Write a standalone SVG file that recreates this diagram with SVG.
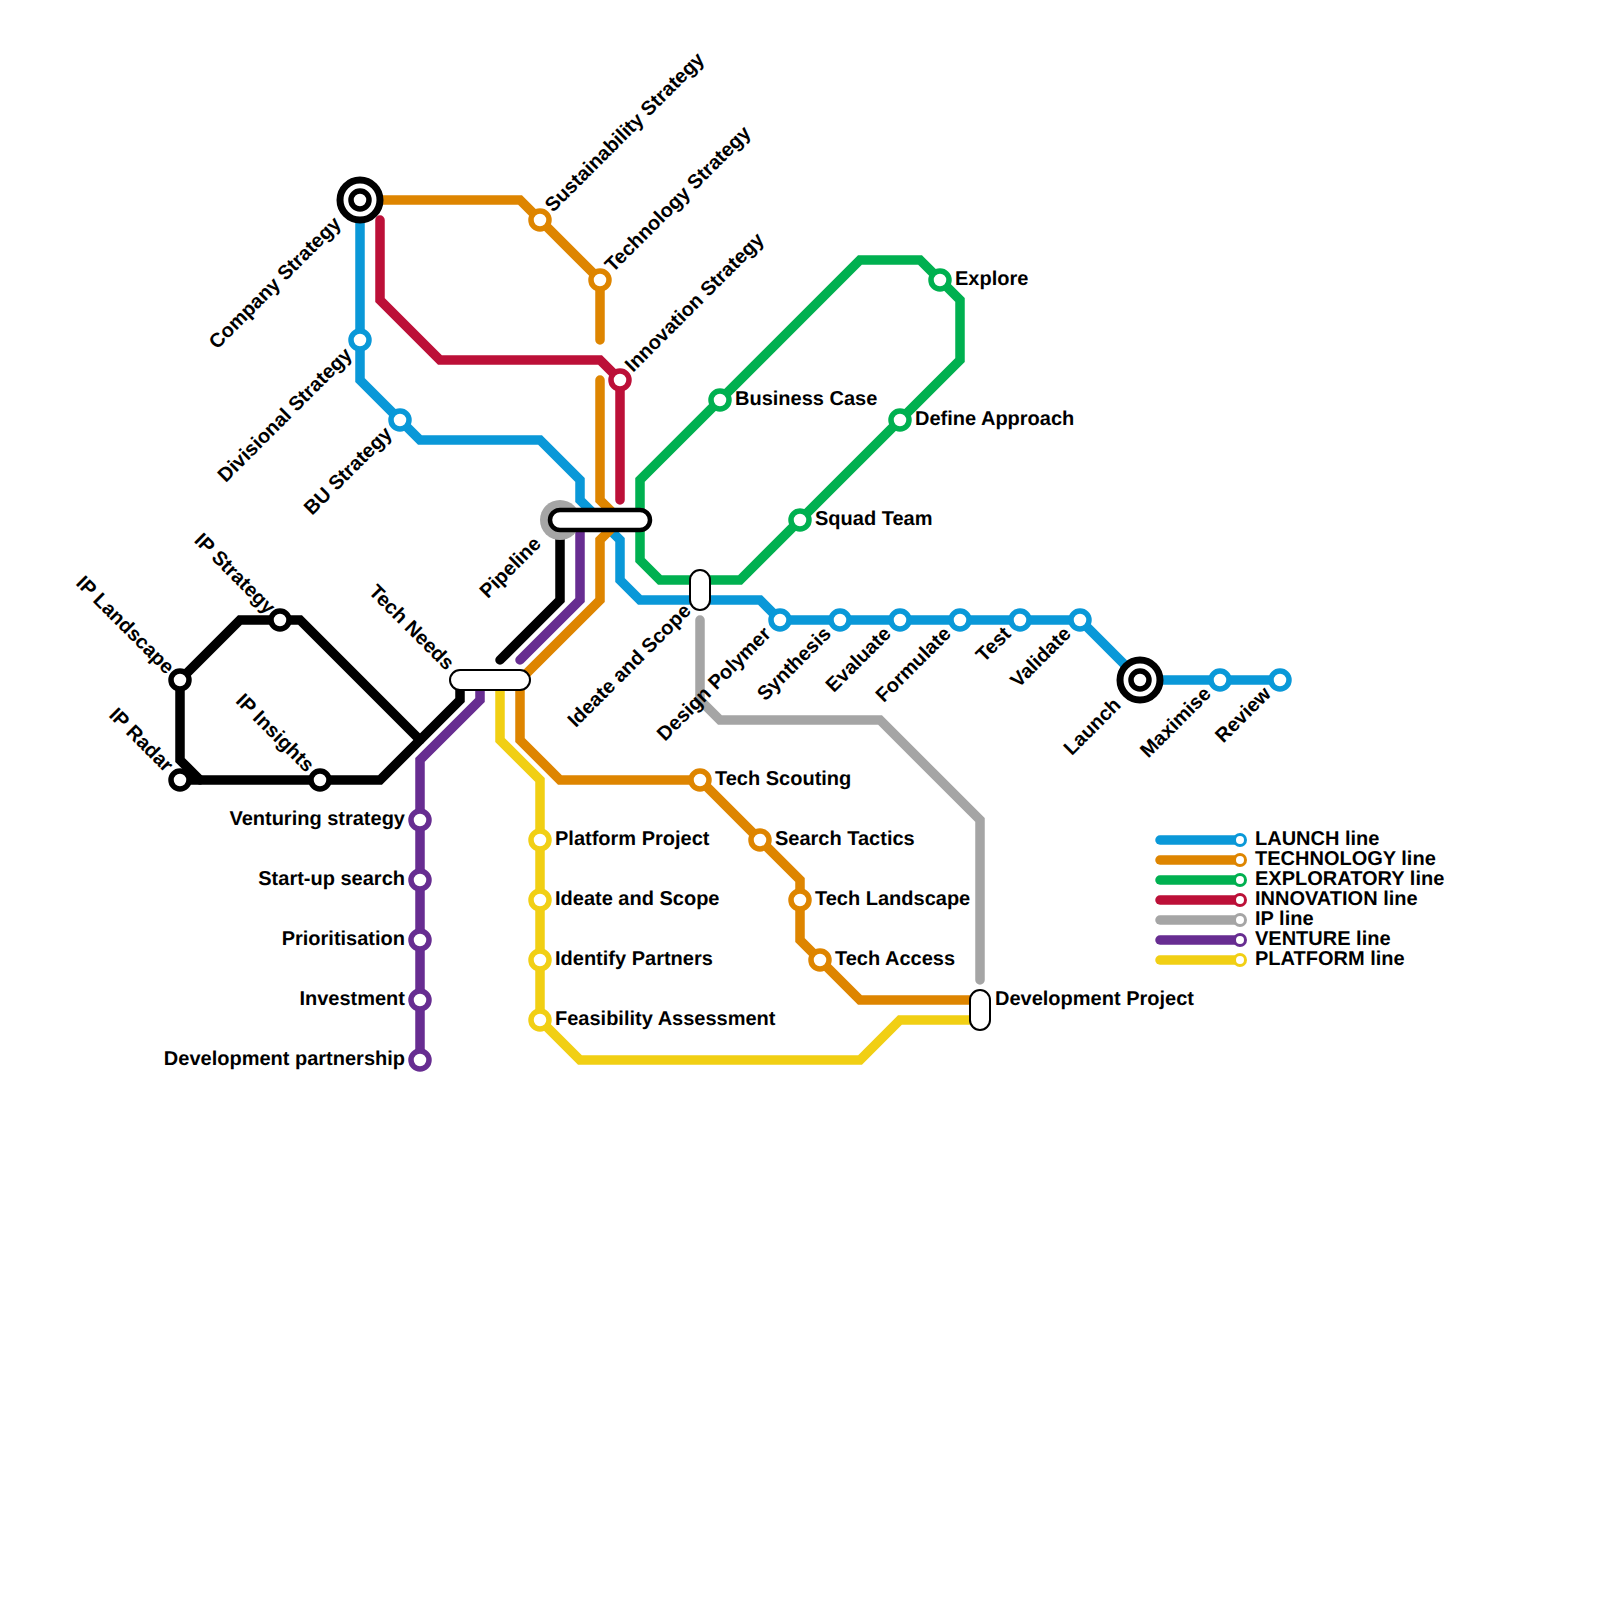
<svg xmlns="http://www.w3.org/2000/svg" width="1600" height="1600" viewBox="0 0 1600 1600">
<defs>
<style>
text{font-family:"Liberation Sans",Arial,sans-serif;font-weight:700;font-size:20px;fill:#000;text-rendering:geometricPrecision}
.e{text-anchor:end}
.l{fill:none;stroke-width:9.5;stroke-linecap:round;stroke-linejoin:miter}
.blue{stroke:#0a98d8}.orange{stroke:#de8500}.green{stroke:#00b050}.red{stroke:#bc1038}.grey{stroke:#a5a5a5}.purple{stroke:#672d91}.yellow{stroke:#f1cf14}.black{stroke:#000}
.s{fill:#fff;stroke-width:5.5}
.ls{fill:#fff;stroke-width:3}
.t1{fill:#fff;stroke:#000;stroke-width:7}
.p{fill:#fff;stroke:#000;stroke-width:2}
</style>
</defs>
<rect width="1600" height="1600" fill="#fff"/>
<g id="connectors">
<path class="l green" d="M860 260H920L960 300V360L740 580H660L640 560V480Z"/>
<path class="l blue" d="M360 200V380L420 440H540L580 480V500L620 540V580L640 600H760L780 620H1080L1140 680H1280"/>
<path class="l orange" d="M360 200H520L600 280V340"/>
<path class="l orange" d="M600 380V500L620 520L600 540V600L520 680V740L560 780H700L800 880V940L860 1000H980"/>
<path class="l red" d="M380 220V300L440 360H600L620 380V500"/>
<path class="l grey" d="M700 620V700L720 720H880L980 820V980"/>
<path class="l black" d="M560 520V600L500 660"/>
<path class="l black" d="M460 680V700L380 780H180"/>
<path class="l black" d="M420 740L300 620H240L180 680V760L200 780"/>
<path class="l purple" d="M580 520V600L520 660"/>
<path class="l purple" d="M480 680V700L420 760V1060"/>
<path class="l yellow" d="M500 680V740L540 780V1020L580 1060H860L900 1020H980"/>
</g>
<g id="pipeline"><circle cx="560" cy="520" r="20" fill="#a5a5a5"/><rect class="p" style="stroke-width:4.5" x="550" y="510" width="100" height="20" rx="10"/><text transform="translate(542,545) rotate(-45)" class="e">Pipeline</text></g>
<g id="tech-needs"><rect class="p" x="450" y="670" width="80" height="20" rx="10"/><text transform="translate(446,671) rotate(45)" class="e">Tech Needs</text></g>
<g id="ideate-scope-pill"><rect class="p" x="690" y="570" width="20" height="40" rx="10"/><text transform="translate(692,612) rotate(-45)" class="e">Ideate and Scope</text></g>
<g id="development-project"><rect class="p" x="970" y="990" width="20" height="40" rx="10"/><text x="995" y="1005">Development Project</text></g>
<g id="company-strategy"><circle class="t1" cx="360" cy="200" r="20"/><circle class="s black" cx="360" cy="200" r="9"/><text transform="translate(342,225) rotate(-45)" class="e">Company Strategy</text></g>
<g id="divisional-strategy"><circle class="s blue" cx="360" cy="340" r="9"/><text transform="translate(353,356) rotate(-45)" class="e">Divisional Strategy</text></g>
<g id="bu-strategy"><circle class="s blue" cx="400" cy="420" r="9"/><text transform="translate(393,435) rotate(-45)" class="e">BU Strategy</text></g>
<g id="design-polymer"><circle class="s blue" cx="780" cy="620" r="9"/><text transform="translate(772,635) rotate(-45)" class="e">Design Polymer</text></g>
<g id="synthesis"><circle class="s blue" cx="840" cy="620" r="9"/><text transform="translate(832,635) rotate(-45)" class="e">Synthesis</text></g>
<g id="evaluate"><circle class="s blue" cx="900" cy="620" r="9"/><text transform="translate(892,635) rotate(-45)" class="e">Evaluate</text></g>
<g id="formulate"><circle class="s blue" cx="960" cy="620" r="9"/><text transform="translate(952,635) rotate(-45)" class="e">Formulate</text></g>
<g id="test"><circle class="s blue" cx="1020" cy="620" r="9"/><text transform="translate(1012,635) rotate(-45)" class="e">Test</text></g>
<g id="validate"><circle class="s blue" cx="1080" cy="620" r="9"/><text transform="translate(1072,635) rotate(-45)" class="e">Validate</text></g>
<g id="launch"><circle class="t1" cx="1140" cy="680" r="20"/><circle class="s black" cx="1140" cy="680" r="9"/><text transform="translate(1122,706) rotate(-45)" class="e">Launch</text></g>
<g id="maximise"><circle class="s blue" cx="1220" cy="680" r="9"/><text transform="translate(1212,695) rotate(-45)" class="e">Maximise</text></g>
<g id="review"><circle class="s blue" cx="1280" cy="680" r="9"/><text transform="translate(1272,695) rotate(-45)" class="e">Review</text></g>
<g id="sustainability-strategy"><circle class="s orange" cx="540" cy="220" r="9"/><text transform="translate(553,213) rotate(-45)">Sustainability Strategy</text></g>
<g id="technology-strategy"><circle class="s orange" cx="600" cy="280" r="9"/><text transform="translate(613,273) rotate(-45)">Technology Strategy</text></g>
<g id="innovation-strategy"><circle class="s red" cx="620" cy="380" r="9"/><text transform="translate(633,373) rotate(-45)">Innovation Strategy</text></g>
<g id="explore"><circle class="s green" cx="940" cy="280" r="9"/><text x="955" y="285">Explore</text></g>
<g id="business-case"><circle class="s green" cx="720" cy="400" r="9"/><text x="735" y="405">Business Case</text></g>
<g id="define-approach"><circle class="s green" cx="900" cy="420" r="9"/><text x="915" y="425">Define Approach</text></g>
<g id="squad-team"><circle class="s green" cx="800" cy="520" r="9"/><text x="815" y="525">Squad Team</text></g>
<g id="tech-scouting"><circle class="s orange" cx="700" cy="780" r="9"/><text x="715" y="785">Tech Scouting</text></g>
<g id="search-tactics"><circle class="s orange" cx="760" cy="840" r="9"/><text x="775" y="845">Search Tactics</text></g>
<g id="tech-landscape"><circle class="s orange" cx="800" cy="900" r="9"/><text x="815" y="905">Tech Landscape</text></g>
<g id="tech-access"><circle class="s orange" cx="820" cy="960" r="9"/><text x="835" y="965">Tech Access</text></g>
<g id="platform-project"><circle class="s yellow" cx="540" cy="840" r="9"/><text x="555" y="845">Platform Project</text></g>
<g id="ideate-and-scope"><circle class="s yellow" cx="540" cy="900" r="9"/><text x="555" y="905">Ideate and Scope</text></g>
<g id="identify-partners"><circle class="s yellow" cx="540" cy="960" r="9"/><text x="555" y="965">Identify Partners</text></g>
<g id="feasibility-assessment"><circle class="s yellow" cx="540" cy="1020" r="9"/><text x="555" y="1025">Feasibility Assessment</text></g>
<g id="venturing-strategy"><circle class="s purple" cx="420" cy="820" r="9"/><text class="e" x="405" y="825">Venturing strategy</text></g>
<g id="start-up-search"><circle class="s purple" cx="420" cy="880" r="9"/><text class="e" x="405" y="885">Start-up search</text></g>
<g id="prioritisation"><circle class="s purple" cx="420" cy="940" r="9"/><text class="e" x="405" y="945">Prioritisation</text></g>
<g id="investment"><circle class="s purple" cx="420" cy="1000" r="9"/><text class="e" x="405" y="1005">Investment</text></g>
<g id="development-partnership"><circle class="s purple" cx="420" cy="1060" r="9"/><text class="e" x="405" y="1065">Development partnership</text></g>
<g id="ip-landscape"><circle class="s black" cx="180" cy="680" r="9"/><text transform="translate(166,675) rotate(45)" class="e">IP Landscape</text></g>
<g id="ip-strategy"><circle class="s black" cx="280" cy="620" r="9"/><text transform="translate(267,615) rotate(45)" class="e">IP Strategy</text></g>
<g id="ip-radar"><circle class="s black" cx="180" cy="780" r="9"/><text transform="translate(165,773) rotate(45)" class="e">IP Radar</text></g>
<g id="ip-insights"><circle class="s black" cx="320" cy="780" r="9"/><text transform="translate(306,773) rotate(45)" class="e">IP Insights</text></g>
<g id="legend">
<path class="l blue" d="M1160 840H1240"/><circle class="ls blue" cx="1240" cy="840" r="5.5"/><text x="1255" y="845">LAUNCH line</text>
<path class="l orange" d="M1160 860H1240"/><circle class="ls orange" cx="1240" cy="860" r="5.5"/><text x="1255" y="865">TECHNOLOGY line</text>
<path class="l green" d="M1160 880H1240"/><circle class="ls green" cx="1240" cy="880" r="5.5"/><text x="1255" y="885">EXPLORATORY line</text>
<path class="l red" d="M1160 900H1240"/><circle class="ls red" cx="1240" cy="900" r="5.5"/><text x="1255" y="905">INNOVATION line</text>
<path class="l grey" d="M1160 920H1240"/><circle class="ls grey" cx="1240" cy="920" r="5.5"/><text x="1255" y="925">IP line</text>
<path class="l purple" d="M1160 940H1240"/><circle class="ls purple" cx="1240" cy="940" r="5.5"/><text x="1255" y="945">VENTURE line</text>
<path class="l yellow" d="M1160 960H1240"/><circle class="ls yellow" cx="1240" cy="960" r="5.5"/><text x="1255" y="965">PLATFORM line</text>
</g>
</svg>
